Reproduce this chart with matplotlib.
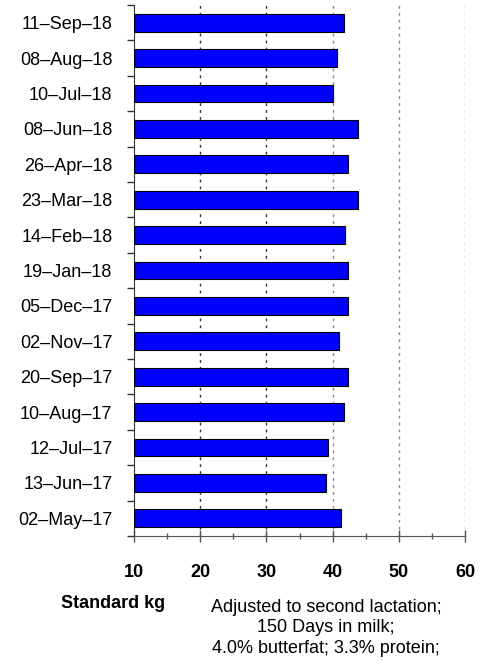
import matplotlib
matplotlib.use("Agg")
import matplotlib.pyplot as plt
from matplotlib.ticker import FixedLocator, MultipleLocator

plt.rcParams['font.family'] = ['Liberation Sans', 'DejaVu Sans']

dates = ["02–May–17", "13–Jun–17", "12–Jul–17", "10–Aug–17", "20–Sep–17",
         "02–Nov–17", "05–Dec–17", "19–Jan–18", "14–Feb–18", "23–Mar–18",
         "26–Apr–18", "08–Jun–18", "10–Jul–18", "08–Aug–18", "11–Sep–18"]
values = [41.2, 39.0, 39.3, 41.7, 42.3, 40.9, 42.3, 42.4, 41.8, 43.8,
          42.3, 43.9, 40.1, 40.7, 41.7]
xticks = [10, 20, 30, 40, 50, 60]

fig = plt.figure(figsize=(4.9, 6.66), dpi=100)
ax = fig.add_axes([134/490, 1-536/666, (465-134)/490, (536-5)/666])

ypos = list(range(len(dates)))
ax.barh(ypos, [v - 10 for v in values], left=10, height=0.5,
        color='#0000FF', edgecolor='black', linewidth=0.8, zorder=3)

ax.set_xlim(10, 60)
ax.set_ylim(-0.5, len(dates) - 0.5)
ax.set_xticks(xticks)
ax.set_xticklabels([str(t) for t in xticks], fontsize=13, fontweight='bold')
ax.xaxis.set_minor_locator(MultipleLocator(5))
ax.tick_params(axis='x', which='major', direction='inout', length=8, width=1, color='#555555', pad=16)
ax.tick_params(axis='x', which='minor', direction='inout', length=5, width=1, color='#555555')

ax.set_yticks(ypos)
ax.set_yticklabels(dates, fontsize=13)
ax.tick_params(axis='y', which='major', length=0, pad=15.5)
ax.yaxis.set_minor_locator(FixedLocator([i + 0.5 for i in range(-1, len(dates))]))
ax.tick_params(axis='y', which='minor', direction='out', length=5, width=1, color='#333333')

for s in ['top', 'right']:
    ax.spines[s].set_visible(False)
ax.spines['left'].set_color('#333333')
ax.spines['bottom'].set_color('#555555')

for g in xticks[1:]:
    ax.axvline(g, color='#333333' if g < 40 else '#888888', linestyle=(0, (2, 3)), linewidth=1, zorder=1)

fig.text(113/490, 1-603/666, "Standard kg", fontsize=13, fontweight='bold', ha='center', va='center')
fig.text(326/490, 1-628/666, "Adjusted to second lactation;\n150 Days in milk;\n4.0% butterfat; 3.3% protein;",
         fontsize=13, ha='center', va='center', linespacing=1.3)

fig.savefig("out.png", dpi=100)
